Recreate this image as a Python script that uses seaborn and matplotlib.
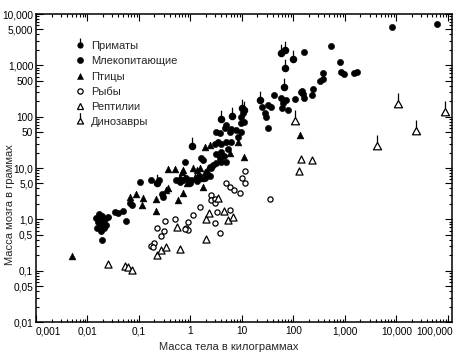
import numpy as np
import pandas as pd
import matplotlib
matplotlib.use("Agg")
import matplotlib.pyplot as plt
import matplotlib.transforms as mtransforms
import seaborn as sns
from matplotlib.path import Path
from matplotlib.lines import Line2D
from matplotlib.ticker import FixedLocator, LogLocator, NullFormatter

# ---------------- data (body mass in kg, brain mass in g) ----------------
primates_kg = [58, 70, 100, 70, 67, 22, 9.8, 11.2, 6.3, 4.0, 1.05, 0.22]
primates_g = [1740, 2000, 1320, 890, 380, 210, 147, 135, 103, 90, 27, 5.1]

mammals_kg = [8040, 61000, 163, 538, 804, 840, 944, 1520, 1690, 381, 370, 329,
              244, 230, 147, 156, 163, 42.8, 57.8, 62, 72, 77.5, 105, 141,
              25, 31.8, 37, 27.4, 29.6, 31.8, 60.4, 9.7, 10.4,
              3.18, 3.68, 4.6, 4.96, 5.75, 6.2, 7.75, 9.7, 11.2,
              3.41, 3.97, 2.94, 4.96, 6.2, 8.3, 9.7,
              3.68, 3.85, 3.18, 2.73, 4.96, 2.54, 1.75, 1.63, 0.77,
              0.72, 0.83, 1.04, 0.96, 0.62, 0.53, 0.175,
              4.0, 3.2, 4.4, 5.26, 2.36, 0.104, 0.25, 0.277, 0.29,
              0.068, 0.072, 0.048, 0.034, 0.039, 0.055, 0.0188,
              0.0146, 0.0159, 0.0174, 0.019, 0.0174, 0.0199, 0.0217, 0.0249,
              0.0152, 0.0182, 0.0208, 0.0166, 0.0227,
              1.32, 1.88, 2.36, 1.44]
mammals_g = [5650, 6300, 1790, 2380, 1175, 731, 668, 699, 751, 699, 541, 495,
             341, 264, 320, 272, 234, 264, 228, 182, 211, 135, 221, 306,
             156, 169, 156, 116, 100, 59, 145, 100, 119,
             51, 48, 59, 69, 51, 57, 55, 74, 80,
             32.5, 30, 30, 32.5, 32.5, 40.6, 51,
             15.6, 13.1, 12.3, 11.4, 13.2, 9.9, 14.3, 15.4, 13.2,
             5.8, 6.3, 5.8, 5.0, 5.4, 5.8, 5.8,
             20.5, 18.7, 17.1, 23.4, 10.6, 5.4, 5.8, 3.1, 2.72,
             2.1, 1.9, 1.47, 1.41, 1.31, 0.94, 0.395,
             1.06, 0.89, 0.97, 1.16, 0.74, 0.81, 1.0, 1.11,
             0.68, 0.59, 0.68, 1.27, 0.77,
             5.6, 6.4, 7.0, 7.0]

birds_kg = [0.0049, 0.066, 0.087, 0.119, 0.113, 0.218, 0.218, 0.34, 0.37,
            0.36, 0.49, 0.68, 0.72, 1.1, 1.32, 1.5, 1.9, 2.06, 0.62, 1.2,
            1.63, 1.75, 0.72, 0.57, 5.75, 8.2, 11.2, 1.9, 2.36, 137, 0.84]
birds_g = [0.195, 2.75, 3.07, 2.6, 1.9, 2.45, 1.47, 3.7, 4.0,
           9.6, 9.6, 8.5, 9.1, 10, 9.1, 10, 8.5, 9.1, 6.8, 6.8,
           6.3, 4.3, 3.2, 2.4, 19.6, 32, 16.4, 25.6, 28, 44, 5.1]

fish_kg = [11.7, 9.8, 11.7, 4.96, 5.75, 6.9, 9.2, 2.54, 2.54, 2.94, 2.94,
           1.54, 1.12, 3.26, 5.75, 2.94, 3.8, 0.32, 0.49, 0.9, 0.83, 0.9,
           0.77, 0.30, 0.27, 35.8, 0.22, 0.20, 0.175, 0.19]
fish_g = [8.7, 6.5, 5.2, 5.0, 4.2, 3.7, 3.25, 3.04, 2.43, 2.54, 2.05,
          1.71, 1.21, 1.37, 1.52, 0.84, 0.53, 0.93, 1.0, 0.87, 0.68, 0.62,
          0.65, 0.59, 0.48, 2.45, 0.67, 0.35, 0.30, 0.285]

reptiles_kg = [0.025, 0.053, 0.0615, 0.072, 0.22, 0.27, 0.34, 0.62, 0.55,
               1.97, 2.03, 2.28, 3.41, 4.4, 5.3, 6.7, 141, 230, 127]
reptiles_g = [0.135, 0.126, 0.12, 0.105, 0.206, 0.25, 0.29, 0.26, 0.72,
              0.41, 1.0, 1.33, 2.6, 1.48, 0.97, 1.12, 14.8, 14.3, 8.7]

dinos_kg = [109, 10800, 88300, 24500, 4190]
dinos_g = [83, 176, 125, 53, 27]

group_labels = ["Приматы", "Млекопитающие", "Птицы", "Рыбы", "Рептилии", "Динозавры"]

x_tick_vals = [0.001, 0.01, 0.1, 1, 10, 100, 1000, 10000, 100000]
x_tick_labels = ["0,001", "0,01", "0,1", "1", "10", "100", "1,000", "10,000", "100,000"]
y_tick_vals = [0.01, 0.05, 0.1, 0.5, 1, 5, 10, 50, 100, 500, 1000, 5000, 10000]
y_tick_labels = ["0,01", "0,05", "0,1", "0,5", "1,0", "5,0", "10,0", "50", "100",
                 "500", "1,000", "5,000", "10,000"]

x_label = "Масса тела в килограммах"
y_label = "Масса мозга в граммах"

# ---------------- build table ----------------
frames = []
for name, xs, ys in zip(group_labels,
                        [primates_kg, mammals_kg, birds_kg, fish_kg, reptiles_kg, dinos_kg],
                        [primates_g, mammals_g, birds_g, fish_g, reptiles_g, dinos_g]):
    frames.append(pd.DataFrame({"body": xs, "brain": ys, "group": name}))
df = pd.concat(frames, ignore_index=True)

# ---------------- custom markers ----------------
uc = Path.unit_circle()
circ = Path(uc.vertices * 0.5, uc.codes)
stem_c = Path([(0, 0.5), (0, 1.4)], [Path.MOVETO, Path.LINETO])
primate_marker = Path.make_compound_path(circ, stem_c)

tri = Path([(-0.55, -0.45), (0.55, -0.45), (0, 0.55), (-0.55, -0.45)],
           [Path.MOVETO, Path.LINETO, Path.LINETO, Path.CLOSEPOLY])
stem_t = Path([(0, 0.55), (0, 1.5)], [Path.MOVETO, Path.LINETO])
dino_marker = Path.make_compound_path(tri, stem_t)

styles = {
    "Приматы": dict(marker=primate_marker, s=160, color="black", edgecolor="black", linewidth=0.9),
    "Млекопитающие": dict(marker="o", s=20, color="black", edgecolor="black", linewidth=0.4),
    "Птицы": dict(marker="^", s=24, color="black", edgecolor="black", linewidth=0.4),
    "Рыбы": dict(marker="o", s=14, color="white", edgecolor="black", linewidth=0.9),
    "Рептилии": dict(marker="^", s=26, color="white", edgecolor="black", linewidth=0.9),
    "Динозавры": dict(marker=dino_marker, s=250, color="white", edgecolor="black", linewidth=0.9),
}

# ---------------- plot ----------------
sns.set_style("ticks")
plt.rcParams["font.family"] = ["Liberation Sans", "DejaVu Sans"]

fig = plt.figure(figsize=(4.55, 3.59), dpi=100)
ax = fig.add_axes([36 / 455, 1 - 322 / 359, 416 / 455, 308 / 359])

for name in group_labels:
    sub = df[df["group"] == name]
    sns.scatterplot(data=sub, x="body", y="brain", ax=ax, legend=False,
                    zorder=3, **styles[name])

ax.set_xscale("log")
ax.set_yscale("log")
ax.set_xlim(1e-3, 1.2e5)
ax.set_ylim(1e-2, 1e4)

ax.xaxis.set_major_locator(FixedLocator(x_tick_vals))
ax.set_xticklabels(x_tick_labels)
ax.yaxis.set_major_locator(FixedLocator(y_tick_vals))
ax.set_yticklabels(y_tick_labels)
for axis in (ax.xaxis, ax.yaxis):
    axis.set_minor_locator(LogLocator(base=10, subs=np.arange(2, 10), numticks=30))
    axis.set_minor_formatter(NullFormatter())

ax.tick_params(which="both", direction="in", top=True, right=True, width=0.8,
               labelsize=7.3, colors="black")
ax.tick_params(which="major", length=5)
ax.tick_params(which="minor", length=2.5)
ax.tick_params(axis="x", pad=3)
ax.tick_params(axis="y", pad=2)
for sp in ax.spines.values():
    sp.set_linewidth(1.1)
    sp.set_color("black")

xtl = ax.get_xticklabels()
xtl[0].set_ha("left")
xtl[-1].set_ha("right")
xtl[-1].set_transform(xtl[-1].get_transform() +
                      mtransforms.ScaledTranslation(5 / 100, 0, fig.dpi_scale_trans))

ax.set_xlabel(x_label, fontsize=8)
ax.set_ylabel(y_label, fontsize=8)
ax.xaxis.set_label_coords(0.464, -0.065)
ax.yaxis.set_label_coords(-0.05, 0.38)

# legend
legend_ms = {"Приматы": 10, "Млекопитающие": 4.4, "Птицы": 5, "Рыбы": 3.8,
             "Рептилии": 5, "Динозавры": 12}
handles = []
for name in group_labels:
    st = styles[name]
    handles.append(Line2D([], [], ls="none", marker=st["marker"], markersize=legend_ms[name],
                          markerfacecolor=st["color"], markeredgecolor="black",
                          markeredgewidth=st["linewidth"], label=name))
leg = ax.legend(handles=handles, loc="upper left", bbox_to_anchor=(0.093, 0.912),
                frameon=False, fontsize=8, handlelength=1.0, handletextpad=0.5,
                labelspacing=0.47, borderpad=0, borderaxespad=0)

fig.savefig("out.png", dpi=100)
